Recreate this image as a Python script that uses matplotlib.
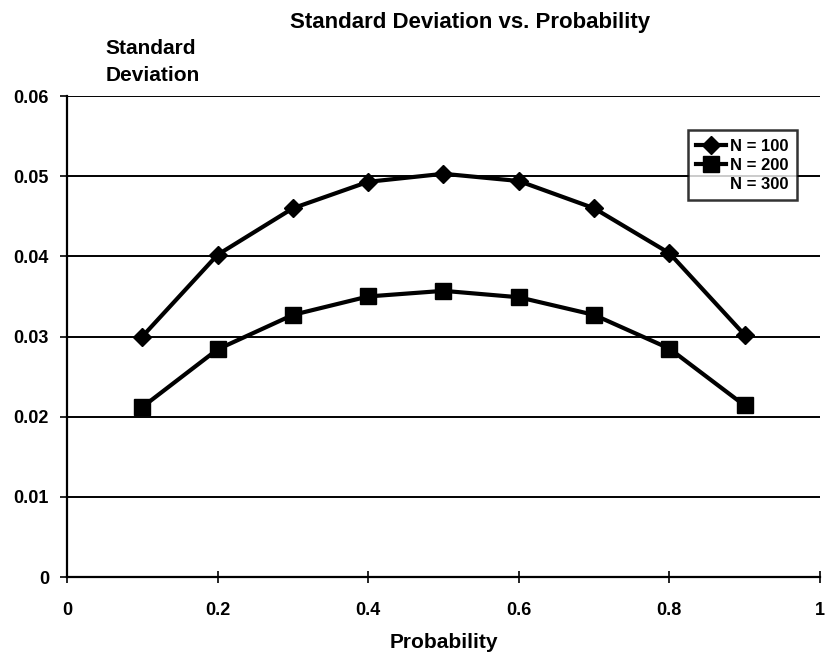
import matplotlib
matplotlib.use("Agg")
import matplotlib.pyplot as plt

plt.rcParams['font.family'] = ['Liberation Sans', 'DejaVu Sans']

prob = [0.1, 0.2, 0.3, 0.4, 0.5, 0.6, 0.7, 0.8, 0.9]
sd_n100 = [0.0300, 0.0402, 0.0460, 0.0493, 0.0503, 0.0494, 0.0460, 0.0404, 0.0302]
sd_n200 = [0.0212, 0.0284, 0.0327, 0.0350, 0.0357, 0.0349, 0.0327, 0.0285, 0.0214]
sd_n300 = []
x_ticks = [0, 0.2, 0.4, 0.6, 0.8, 1]
x_labels = ['0', '0.2', '0.4', '0.6', '0.8', '1']
y_ticks = [0, 0.01, 0.02, 0.03, 0.04, 0.05, 0.06]
y_labels = ['0', '0.01', '0.02', '0.03', '0.04', '0.05', '0.06']

fig = plt.figure(figsize=(8.27, 6.55), dpi=100)
ax = fig.add_axes([0.081, 0.119, 0.9105, 0.7344])

for yv in y_ticks[1:]:
    ax.axhline(yv, color='black', lw=1.4, zorder=1)

ax.plot(prob, sd_n100, color='black', lw=3, marker='D', ms=9, label='N = 100', zorder=3)
ax.plot(prob, sd_n200, color='black', lw=3, marker='s', ms=11, label='N = 200', zorder=3)
ax.plot(sd_n300, sd_n300, linestyle='none', label='N = 300')

ax.set_xlim(0, 1)
ax.set_ylim(0, 0.06)
ax.set_xticks(x_ticks)
ax.set_xticklabels(x_labels, fontsize=13, fontweight='bold')
ax.set_yticks(y_ticks)
ax.set_yticklabels(y_labels, fontsize=13, fontweight='bold')
ax.tick_params(axis='x', direction='inout', length=8, width=1.2, pad=14)
ax.tick_params(axis='y', direction='out', length=5, width=1.2, pad=8)
for s in ['top', 'right']:
    ax.spines[s].set_visible(False)
ax.spines['left'].set_linewidth(1.6)
ax.spines['bottom'].set_linewidth(1.6)

ax.set_xlabel('Probability', fontsize=15, fontweight='bold', labelpad=10)
fig.text(0.568, 0.966, 'Standard Deviation vs. Probability', fontsize=16, fontweight='bold',
         ha='center', va='center')
fig.text(0.128, 0.905, 'Standard\nDeviation', fontsize=15, fontweight='bold',
         ha='left', va='center', linespacing=1.5)

leg = ax.legend(loc='upper right', bbox_to_anchor=(0.969, 0.929), borderaxespad=0,
                prop={'weight': 'bold', 'size': 12}, frameon=True,
                fancybox=False, edgecolor='black', handlelength=1.8, handletextpad=0.2,
                borderpad=0.5, labelspacing=0.25)
leg.get_frame().set_linewidth(1.8)

fig.savefig('out.png', dpi=100)
